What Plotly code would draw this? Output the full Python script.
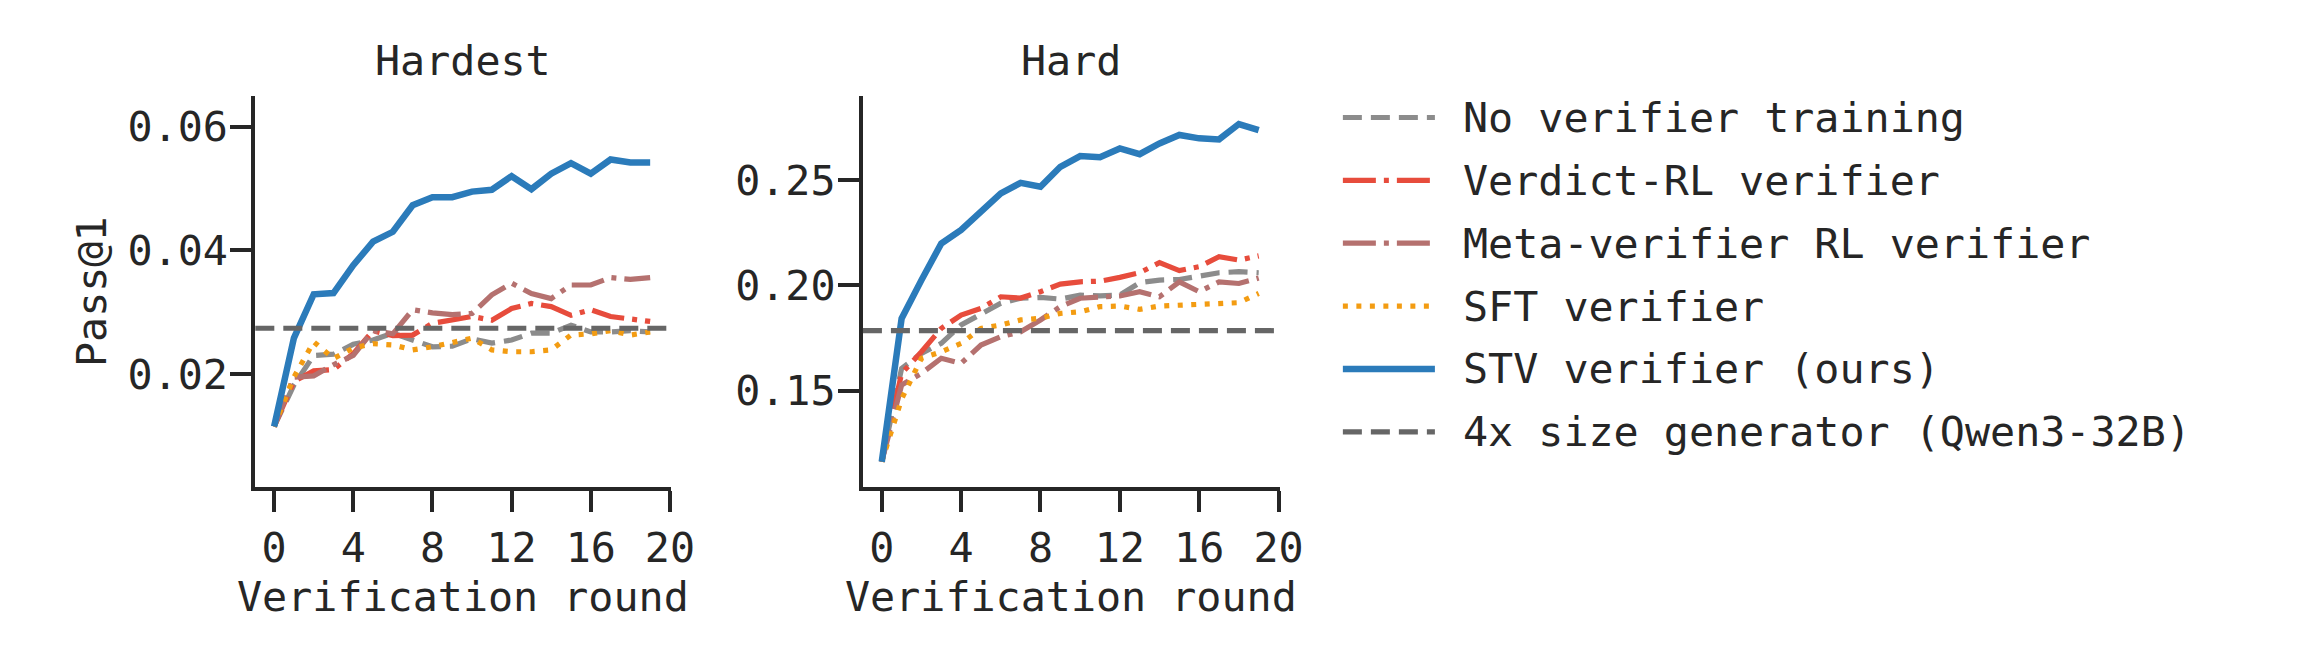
import plotly.graph_objects as go

W, H = 2305, 655
FONT = "DejaVu Sans Mono"
TXT = "#262626"
FS = 41.7

rounds = list(range(20))

# Hardest split
hardest_none = [0.0115, 0.0182, 0.0230, 0.0232, 0.0248, 0.0255, 0.0266, 0.0255, 0.0244, 0.0245,
                0.0257, 0.0250, 0.0255, 0.0266, 0.0266, 0.0279, 0.0268, 0.0268, 0.0270, 0.0268]
hardest_verdict = [0.0115, 0.0188, 0.0205, 0.0207, 0.0233, 0.0270, 0.0262, 0.0263, 0.0282, 0.0287,
                   0.0293, 0.0287, 0.0306, 0.0314, 0.0309, 0.0295, 0.0304, 0.0293, 0.0290, 0.0285]
hardest_meta = [0.0115, 0.0195, 0.0197, 0.0215, 0.0230, 0.0270, 0.0265, 0.0304, 0.0299, 0.0296,
                0.0298, 0.0328, 0.0347, 0.0330, 0.0322, 0.0344, 0.0344, 0.0356, 0.0353, 0.0356]
hardest_sft = [0.0115, 0.0195, 0.0252, 0.0225, 0.0242, 0.0249, 0.0247, 0.0239, 0.0244, 0.0252,
               0.0258, 0.0239, 0.0236, 0.0236, 0.0239, 0.0263, 0.0265, 0.0270, 0.0263, 0.0268]
hardest_stv = [0.0115, 0.0258, 0.0329, 0.0331, 0.0376, 0.0414, 0.0430, 0.0473, 0.0486, 0.0486,
               0.0495, 0.0498, 0.0520, 0.0499, 0.0524, 0.0541, 0.0524, 0.0547, 0.0542, 0.0542]
hardest_ref = 0.0274

# Hard split
hard_none = [0.1163, 0.1606, 0.1677, 0.1725, 0.1812, 0.1867, 0.1915, 0.1939, 0.1943, 0.1935,
             0.1954, 0.1950, 0.1954, 0.2013, 0.2025, 0.2028, 0.2041, 0.2060, 0.2065, 0.2060]
hard_verdict = [0.1163, 0.1582, 0.1685, 0.1796, 0.1859, 0.1891, 0.1946, 0.1940, 0.1970, 0.2006,
                0.2017, 0.2020, 0.2038, 0.2060, 0.2108, 0.2070, 0.2089, 0.2136, 0.2120, 0.2140]
hard_meta = [0.1163, 0.1527, 0.1582, 0.1654, 0.1630, 0.1717, 0.1756, 0.1780, 0.1836, 0.1899,
             0.1939, 0.1946, 0.1950, 0.1970, 0.1946, 0.2017, 0.1970, 0.2017, 0.2009, 0.2035]
hard_sft = [0.1163, 0.1460, 0.1654, 0.1685, 0.1725, 0.1796, 0.1812, 0.1836, 0.1844, 0.1867,
            0.1875, 0.1899, 0.1902, 0.1886, 0.1902, 0.1905, 0.1906, 0.1911, 0.1918, 0.1962]
hard_stv = [0.1163, 0.1843, 0.2025, 0.2199, 0.2263, 0.2353, 0.2437, 0.2487, 0.2468, 0.2563,
            0.2614, 0.2608, 0.2650, 0.2623, 0.2674, 0.2714, 0.2698, 0.2693, 0.2766, 0.2737]
hard_ref = 0.1785

panel_titles = ["Hardest", "Hard"]
x_ticks = [0, 4, 8, 12, 16, 20]
y_ticks_hardest = [0.02, 0.04, 0.06]
y_ticks_hard = [0.15, 0.20, 0.25]
y_ticktext_hard = ["0.15", "0.20", "0.25"]

series_names = ["No verifier training", "Verdict-RL verifier", "Meta-verifier RL verifier",
                "SFT verifier", "STV verifier (ours)"]
ref_name = "4x size generator (Qwen3-32B)"

styles = {
    "No verifier training": dict(color="#8c8c8c", width=5.2, dash="19px,9px"),
    "Verdict-RL verifier": dict(color="#e74c3c", width=5.2, dash="33px,8px,5px,8px"),
    "Meta-verifier RL verifier": dict(color="#b5716f", width=5.2, dash="33px,8px,5px,8px"),
    "SFT verifier": dict(color="#f39c12", width=5.2, dash="5px,8.5px"),
    "STV verifier (ours)": dict(color="#2b7bba", width=6.5, dash="solid"),
}
ref_style = dict(color="#666666", width=5.2, dash="19px,9px")

hardest = [hardest_none, hardest_verdict, hardest_meta, hardest_sft, hardest_stv]
hard = [hard_none, hard_verdict, hard_meta, hard_sft, hard_stv]

fig = go.Figure()

for data, xa, ya in [(hardest, "x", "y"), (hard, "x2", "y2")]:
    for name, vals in zip(series_names, data):
        fig.add_trace(go.Scatter(x=rounds, y=vals, mode="lines", name=name,
                                 line=styles[name], xaxis=xa, yaxis=ya,
                                 showlegend=False, hoverinfo="skip"))

for ref, xa, ya in [(hardest_ref, "x", "y"), (hard_ref, "x2", "y2")]:
    fig.add_shape(type="line", xref=f"{xa} domain", yref=ya, x0=0, x1=1, y0=ref, y1=ref,
                  line=ref_style)

# legend drawn on a hidden axis
legend_names = series_names + [ref_name]
legend_styles = [styles[n] for n in series_names] + [ref_style]
for i, (name, st) in enumerate(zip(legend_names, legend_styles)):
    fig.add_trace(go.Scatter(x=[0, 1], y=[i, i], mode="lines", line=st,
                             xaxis="x3", yaxis="y3", showlegend=False, hoverinfo="skip"))
    fig.add_annotation(text=name, xref="paper", yref="y3", x=1476 / W, y=i,
                       xanchor="left", yanchor="middle", showarrow=False,
                       font=dict(family=FONT, size=FS, color=TXT))

row_h = (431.8 - 117.5) / 5
axis_common = dict(showgrid=False, zeroline=False, showline=True, linewidth=4,
                   linecolor=TXT, ticks="outside", ticklen=21, tickwidth=4,
                   tickcolor=TXT, tickfont=dict(family=FONT, size=FS, color=TXT))

ydom = [1 - 487 / H, 1 - 96 / H]
leg_x0, leg_x1 = 1357, 1450
pad = (leg_x1 - leg_x0) * 0.05
fig.update_layout(
    width=W, height=H, margin=dict(l=0, r=0, t=0, b=0),
    paper_bgcolor="white", plot_bgcolor="white", showlegend=False,
    xaxis=dict(domain=[258 / W, 678 / W], range=[-0.95, 20.05], tickvals=x_ticks,
               anchor="y", **axis_common),
    yaxis=dict(domain=ydom, range=[0.00172, 0.06497], tickvals=y_ticks_hardest,
               tickformat=".2f", anchor="x", ticklabelstandoff=-6, **axis_common),
    xaxis2=dict(domain=[872 / W, 1293 / W], range=[-0.95, 20.05], tickvals=x_ticks,
                anchor="y2", **axis_common),
    yaxis2=dict(domain=ydom, range=[0.1043, 0.2899], tickvals=y_ticks_hard,
                ticktext=y_ticktext_hard, anchor="x2", ticklabelstandoff=-6, **axis_common),
    xaxis3=dict(domain=[(leg_x0 - pad) / W, (leg_x1 + pad) / W], range=[-0.05, 1.05],
                visible=False, anchor="y3"),
    yaxis3=dict(domain=[1 - (431.8 + row_h / 2) / H, 1 - (117.5 - row_h / 2) / H],
                range=[5.5, -0.5], visible=False, anchor="x3"),
)

# panel titles and axis titles
for title, cx in zip(panel_titles, [468, 1082.5]):
    fig.add_annotation(text=title, xref="paper", yref="paper", x=cx / W, y=1 - 60 / H,
                       xanchor="center", yanchor="middle", showarrow=False,
                       font=dict(family=FONT, size=FS, color=TXT))
    fig.add_annotation(text="Verification round", xref="paper", yref="paper",
                       x=cx / W, y=1 - 596 / H, xanchor="center", yanchor="middle",
                       showarrow=False, font=dict(family=FONT, size=FS, color=TXT))

fig.add_annotation(text="Pass@1", xref="paper", yref="paper", x=92 / W, y=1 - 292 / H,
                   xanchor="center", yanchor="middle", textangle=-90, showarrow=False,
                   font=dict(family=FONT, size=FS, color=TXT))

fig.write_html("out.html")
